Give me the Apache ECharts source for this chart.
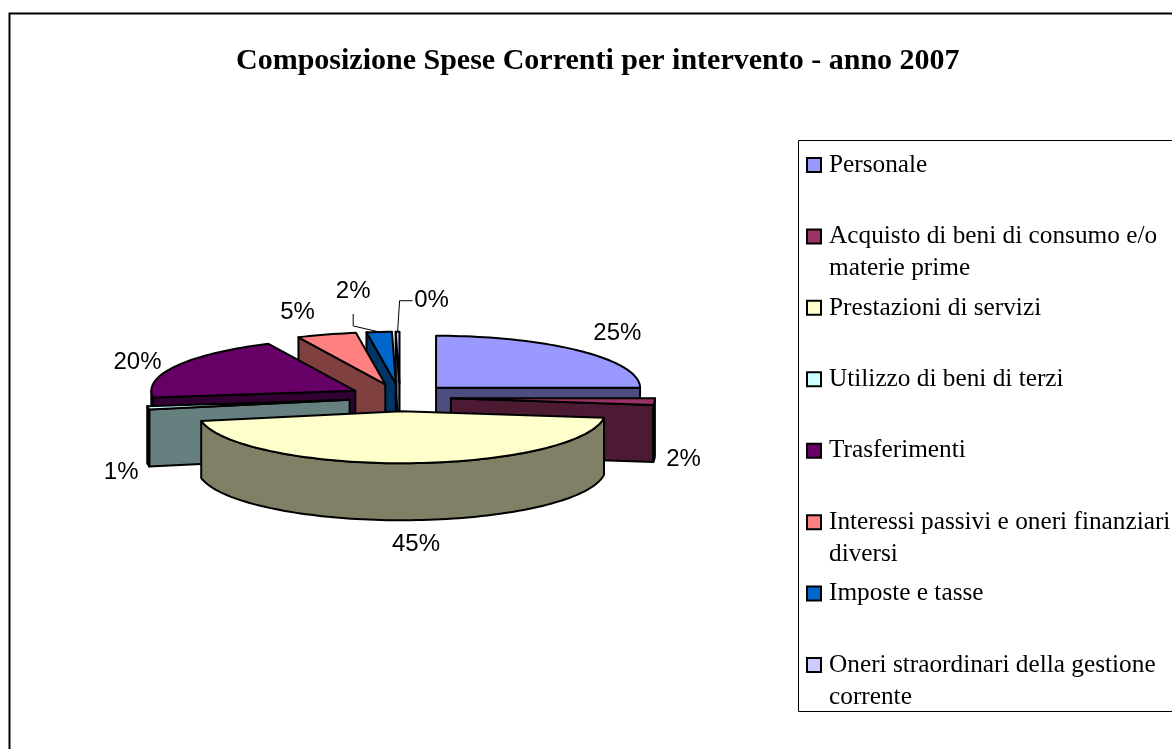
<!DOCTYPE html>
<html>
<head>
<meta charset="utf-8">
<script src="https://cdn.jsdelivr.net/npm/echarts@6/dist/echarts.min.js"></script>
<style>html,body{margin:0;padding:0;background:#fff}#c{width:1172px;height:749px}</style>
</head>
<body>
<div id="c"></div>
<script>
const chartTitle = 'Composizione Spese Correnti per intervento - anno 2007';
const categories = ['Personale', 'Acquisto di beni di consumo e/o materie prime', 'Prestazioni di servizi', 'Utilizzo di beni di terzi', 'Trasferimenti', 'Interessi passivi e oneri finanziari diversi', 'Imposte e tasse', 'Oneri straordinari della gestione corrente'];
const values = [25, 2, 45, 1, 20, 4.7, 2, 0.3];
const topColors = ['#9999FF', '#993366', '#FFFFCC', '#CCFFFF', '#660066', '#FF8080', '#0066CC', '#CCCCFF'];
const sideColors = ['#4D4D80', '#4D1A33', '#808066', '#668080', '#330033', '#804040', '#003366', '#666680'];
const legendLines = {
  'Acquisto di beni di consumo e/o materie prime': 'Acquisto di beni di consumo e/o\nmaterie prime',
  'Interessi passivi e oneri finanziari diversi': 'Interessi passivi e oneri finanziari\ndiversi',
  'Oneri straordinari della gestione corrente': 'Oneri straordinari della gestione\ncorrente'
};
// layout of the pie projection
const PIE = { cx: 400, cy: 397.5, rx: 204, ry: 52, depth: 57, explode: 51, explodeY: 0.27 };
// label offset from the outer arc midpoint of each slice
const labelOffsets = [[37, -18], [29, 58], [8, 81], [-27, 65], [-39, -3], [-29, -22], [-26, -41], [34, -31]];
// leader lines, relative to the label centre
const leaders = { 6: [[0, 23], [0, 35]], 7: [[-19, 0], [-32, 0]] };

const total = values.reduce((a, b) => a + b, 0);
const starts = [];
values.reduce((acc, v, i) => { starts[i] = acc; return acc + v; }, 0);
const depthKey = values.map((v, i) => -Math.cos((starts[i] + v / 2) / total * 2 * Math.PI));
const rank = depthKey.map((d, i) => i).sort((a, b) => depthKey[a] - depthKey[b]);

function renderSlice(i, value) {
  const a0 = starts[i] / total * 2 * Math.PI;
  const a1 = (starts[i] + value) / total * 2 * Math.PI;
  const mid = (a0 + a1) / 2;
  const ax = PIE.cx + PIE.explode * Math.sin(mid);
  const ay = PIE.cy - PIE.explode * PIE.explodeY * Math.cos(mid);
  const pt = a => [ax + PIE.rx * Math.sin(a), ay - PIE.ry * Math.cos(a)];
  const down = p => [p[0], p[1] + PIE.depth];
  const arc = (s, e) => {
    const n = Math.max(2, Math.ceil((e - s) / 0.03));
    const out = [];
    for (let k = 0; k <= n; k++) out.push(pt(s + (e - s) * k / n));
    return out;
  };
  const apex = [ax, ay];
  const lineStyle = { stroke: '#000', lineWidth: 2, lineJoin: 'round' };
  const side = { ...lineStyle, fill: sideColors[i] };
  const children = [];
  const face = a => {
    const p = pt(a);
    children.push({ type: 'polygon', shape: { points: [apex, p, down(p), down(apex)] }, style: side });
  };
  if (Math.sin(a0) < 0) face(a0);
  if (Math.sin(a1) > 0) face(a1);
  const ws = Math.max(a0, Math.PI / 2);
  const we = Math.min(a1, 3 * Math.PI / 2);
  if (we > ws) {
    const top = arc(ws, we);
    children.push({ type: 'polygon', shape: { points: top.concat(top.map(down).reverse()) }, style: side });
  }
  children.push({ type: 'polygon', shape: { points: [apex].concat(arc(a0, a1)) }, style: { ...lineStyle, fill: topColors[i] } });

  const m = pt(mid);
  const off = labelOffsets[i];
  const lx = m[0] + off[0];
  const ly = m[1] + off[1];
  if (leaders[i]) {
    const pts = leaders[i].map(d => [lx + d[0], ly + d[1]]);
    pts.push(m);
    children.push({ type: 'polyline', shape: { points: pts }, style: { stroke: '#000', lineWidth: 1, fill: null } });
  }
  children.push({
    type: 'text', x: lx, y: ly,
    style: {
      text: Math.round(value / total * 100) + '%',
      x: 0, y: 0, align: 'center', verticalAlign: 'middle',
      font: '24px "Liberation Sans", Arial, sans-serif', fill: '#000'
    }
  });
  return { type: 'group', children };
}

const chart = echarts.init(document.getElementById('c'), null, { renderer: 'canvas' });
chart.setOption({
  animation: false,
  backgroundColor: '#fff',
  title: {
    text: chartTitle, left: 236, top: 46, padding: 0,
    textStyle: { fontFamily: '"Liberation Serif"', fontWeight: 'bold', fontSize: 30, color: '#000' }
  },
  legend: {
    type: 'plain', orient: 'vertical', left: 806, top: 116, padding: 0,
    itemWidth: 14, itemHeight: 14, itemGap: 71.43 - 98, icon: 'rect', selectedMode: false,
    itemStyle: { borderColor: '#000', borderWidth: 2 },
    data: categories,
    formatter: name => ' \n' + (legendLines[name] || (name + '\n ')),
    textStyle: { fontFamily: '"Liberation Serif"', fontSize: 25.3, color: '#000', lineHeight: 32, padding: [2, 0, 0, 3] }
  },
  graphic: [
    { type: 'rect', silent: true, z: 0, shape: { x: 9.5, y: 13.5, width: 1300, height: 800 }, style: { fill: '#fff', stroke: '#000', lineWidth: 2 } },
    { type: 'rect', silent: true, z: 0, shape: { x: 798.5, y: 140.5, width: 500, height: 571 }, style: { fill: '#fff', stroke: '#000', lineWidth: 1 } }
  ],
  series: categories.map((name, i) => ({
    type: 'custom',
    name,
    coordinateSystem: 'none',
    silent: true,
    z: 2 + rank.indexOf(i),
    itemStyle: { color: topColors[i] },
    data: [[values[i]]],
    renderItem: (params, api) => renderSlice(i, api.value(0))
  }))
});
</script>
</body>
</html>
